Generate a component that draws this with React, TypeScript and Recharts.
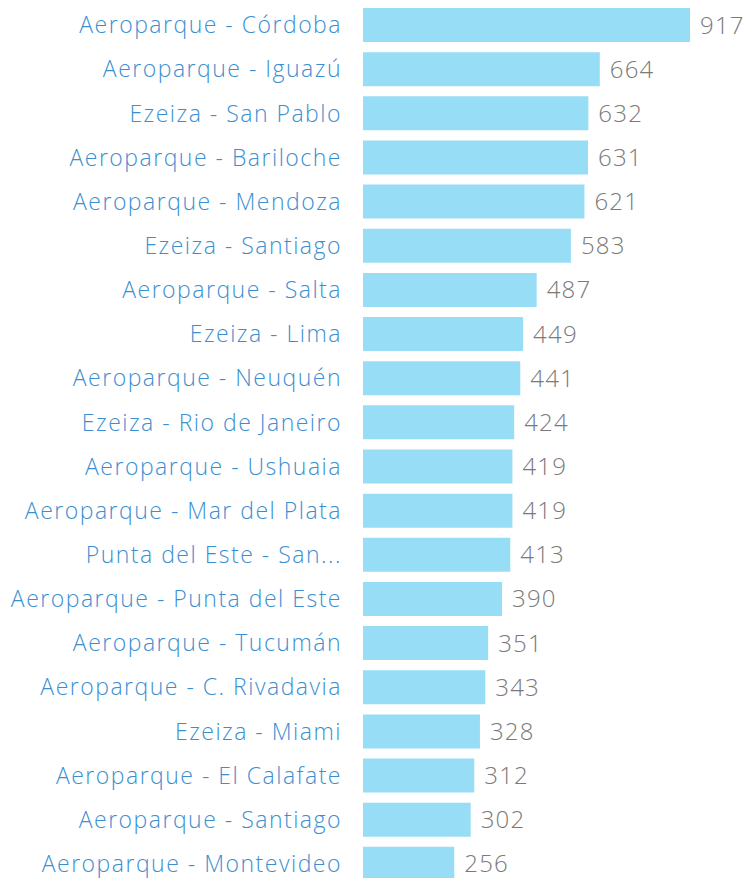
import { BarChart, Bar, XAxis, YAxis, LabelList } from "recharts";

const routes = [
  "Aeroparque - Córdoba",
  "Aeroparque - Iguazú",
  "Ezeiza - San Pablo",
  "Aeroparque - Bariloche",
  "Aeroparque - Mendoza",
  "Ezeiza - Santiago",
  "Aeroparque - Salta",
  "Ezeiza - Lima",
  "Aeroparque - Neuquén",
  "Ezeiza - Rio de Janeiro",
  "Aeroparque - Ushuaia",
  "Aeroparque - Mar del Plata",
  "Punta del Este - San...",
  "Aeroparque - Punta del Este",
  "Aeroparque - Tucumán",
  "Aeroparque - C. Rivadavia",
  "Ezeiza - Miami",
  "Aeroparque - El Calafate",
  "Aeroparque - Santiago",
  "Aeroparque - Montevideo",
];

const flights = [917, 664, 632, 631, 621, 583, 487, 449, 441, 424, 419, 419, 413, 390, 351, 343, 328, 312, 302, 256];

const data = routes.map((route, i) => ({ route, value: flights[i] }));

const font = "'Open Sans', Lato, sans-serif";

export default function App() {
  return (
    <div style={{ position: "absolute", left: 0, top: 0, width: 744, height: 878, overflow: "hidden", background: "#fff" }}>
      <BarChart
        layout="vertical"
        width={744}
        height={890}
        data={data}
        margin={{ top: 3, right: 54, left: 0, bottom: 4 }}
      >
        <XAxis type="number" hide domain={[0, 917]} />
        <YAxis
          type="category"
          dataKey="route"
          width={363}
          axisLine={false}
          tickLine={false}
          tickSize={0}
          tickMargin={21}
          interval={0}
          tick={{ fill: "#3b8fd1", fontSize: 23, fontFamily: font, fontWeight: 300, letterSpacing: 1.5 }}
        />
        <Bar dataKey="value" fill="#97ddf5" barSize={34} isAnimationActive={false}>
          <LabelList
            dataKey="value"
            position="right"
            offset={10}
            fill="#7a7a7a"
            style={{ fontSize: 24, fontFamily: font, fontWeight: 300, letterSpacing: 1.2 }}
          />
        </Bar>
      </BarChart>
    </div>
  );
}
